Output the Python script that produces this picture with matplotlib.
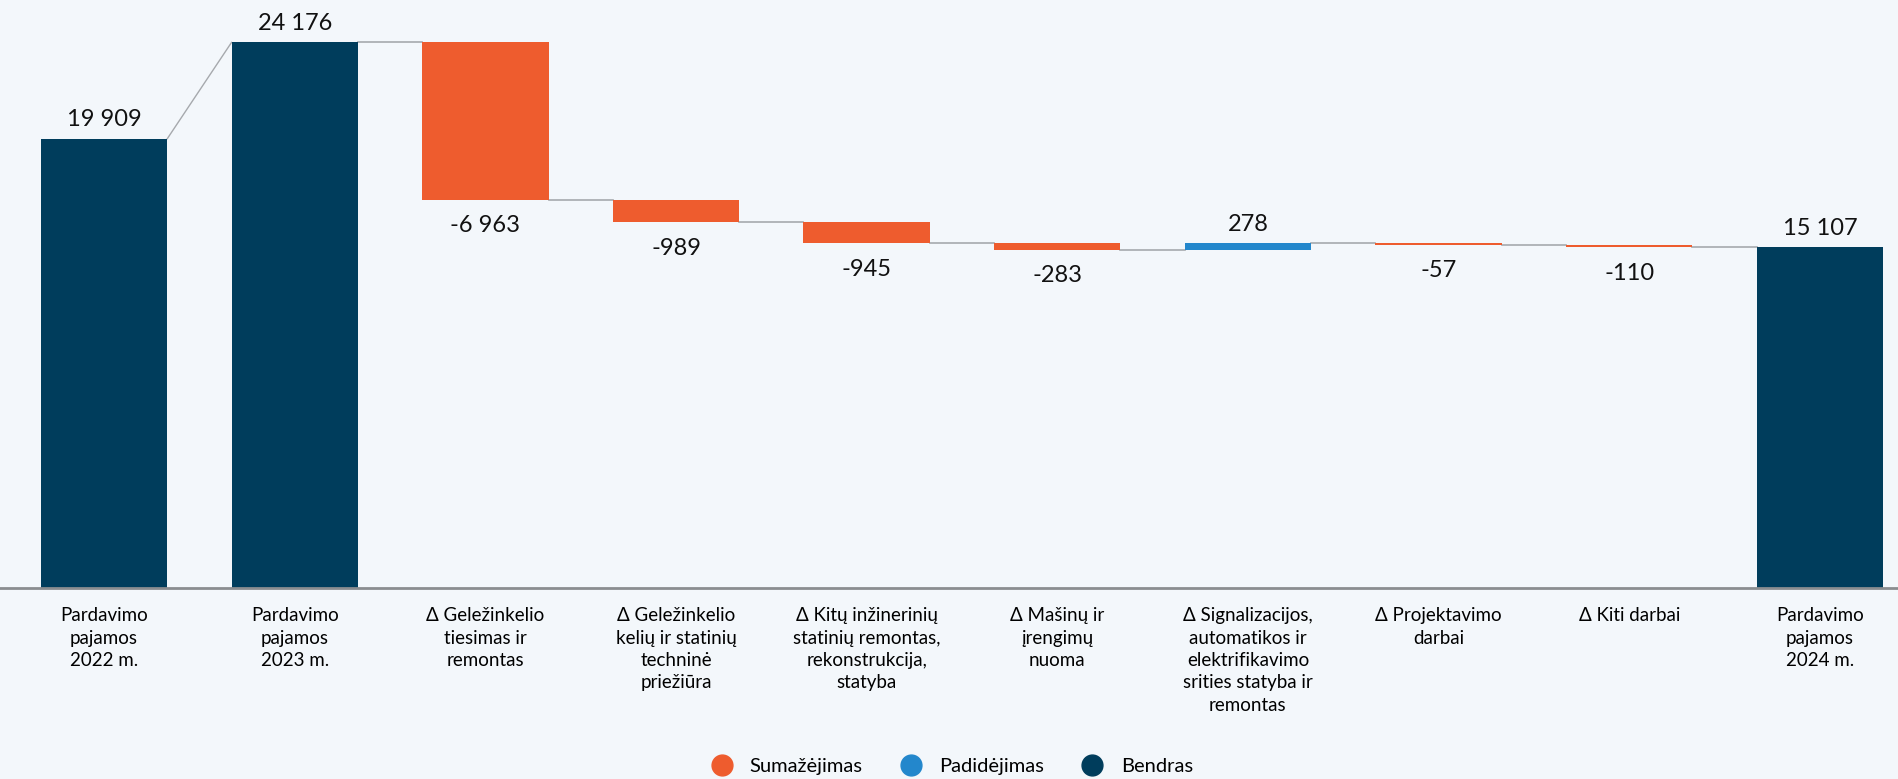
import matplotlib.pyplot as plt
from matplotlib.lines import Line2D

categories = [
    "Pardavimo\npajamos\n2022 m.",
    "Pardavimo\npajamos\n2023 m.",
    "Δ Geležinkelio\ntiesimas ir\nremontas",
    "Δ Geležinkelio\nkelių ir statinių\ntechninė\npriežiūra",
    "Δ Kitų inžinerinių\nstatinių remontas,\nrekonstrukcija,\nstatyba",
    "Δ Mašinų ir\nįrengimų\nnuoma",
    "Δ Signalizacijos,\nautomatikos ir\nelektrifikavimo\nsrities statyba ir\nremontas",
    "Δ Projektavimo\ndarbai",
    "Δ Kiti darbai",
    "Pardavimo\npajamos\n2024 m.",
]
values = [19909, 24176, -6963, -989, -945, -283, 278, -57, -110, 15107]
is_total = [True, True, False, False, False, False, False, False, False, True]

legend_labels = ["Sumažėjimas", "Padidėjimas", "Bendras"]

BG = "#f3f7fb"
C_DOWN = "#ee5c2e"
C_UP = "#2387cc"
C_TOTAL = "#003d5c"
C_LINE = "#a6a9ad"

plt.rcParams['font.family'] = ['Lato', 'DejaVu Sans']


def fmt(v):
    s = f"{abs(v):,}".replace(",", " ")
    return ("-" if v < 0 else "") + s


fig = plt.figure(figsize=(18.98, 7.79), dpi=100, facecolor=BG)
ax = fig.add_axes([0, 0.2452, 1, 0.7548])
ax.set_facecolor(BG)

width = 0.663
bottoms, heights, colors = [], [], []
running = 0
for v, tot in zip(values, is_total):
    if tot:
        bottoms.append(0)
        heights.append(v)
        colors.append(C_TOTAL)
        running = v
    else:
        bottoms.append(running if v > 0 else running + v)
        heights.append(abs(v))
        colors.append(C_UP if v > 0 else C_DOWN)
        running += v

x = list(range(len(values)))
ax.bar(x, heights, bottom=bottoms, width=width, color=colors, zorder=3)

# connectors
levels = []
running = 0
for v, tot in zip(values, is_total):
    running = v if tot else running + v
    levels.append(running)
for i in range(len(values) - 1):
    if is_total[i + 1] and i == 0:
        ax.plot([i + width / 2, i + 1 - width / 2], [levels[i], values[i + 1]],
                color=C_LINE, lw=1.0, zorder=2)
    else:
        ax.plot([i + width / 2, i + 1 - width / 2], [levels[i], levels[i]],
                color=C_LINE, lw=1.2, zorder=2)

# value labels
for i, (v, tot) in enumerate(zip(values, is_total)):
    top = bottoms[i] + heights[i]
    if tot or v > 0:
        ax.annotate(fmt(v), (i, top), xytext=(0, 13.5), textcoords="offset points",
                    ha="center", va="center", fontsize=17, color="#111111")
    else:
        ax.annotate(fmt(v), (i, bottoms[i]), xytext=(0, -19), textcoords="offset points",
                    ha="center", va="center", fontsize=17, color="#111111")

ax.set_xlim(-0.546, 9.41)
ax.set_ylim(0, 26055)
ax.set_xticks(x)
ax.set_xticklabels(categories, fontsize=13.5, linespacing=1.38)
ax.tick_params(axis="x", length=0, pad=14)
ax.set_yticks([])
for s in ["top", "right", "left"]:
    ax.spines[s].set_visible(False)
ax.spines["bottom"].set_color("#8a8d90")
ax.spines["bottom"].set_linewidth(2)
ax.spines["bottom"].set_zorder(4)

handles = [Line2D([], [], marker="o", ls="", markersize=15, color=c)
           for c in (C_DOWN, C_UP, C_TOTAL)]
fig.legend(handles, legend_labels, loc="center", bbox_to_anchor=(0.499, 0.016),
           ncol=3, frameon=False, fontsize=14.5, handletextpad=0.4, columnspacing=1.4)

fig.savefig("out.png", dpi=100, facecolor=BG)
